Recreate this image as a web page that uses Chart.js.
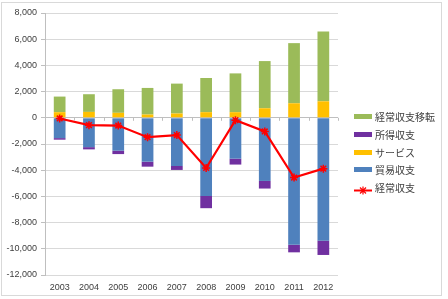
<!DOCTYPE html>
<html><head><meta charset="utf-8">
<script src="https://cdn.jsdelivr.net/npm/chart.js@4/dist/chart.umd.min.js"></script>
<style>
html,body{margin:0;padding:0;background:#fff;}
#wrap{position:relative;width:448px;height:299px;}
#frame{position:absolute;left:1px;top:2px;width:441px;height:294px;border:1px solid #D9D9D9;box-sizing:border-box;pointer-events:none;}
#legend{position:absolute;left:354px;top:108px;font-family:"Noto Sans CJK JP","Noto Sans",sans-serif;font-size:10px;color:#404040;}
.li{height:17.7px;display:flex;align-items:center;white-space:nowrap;}
.sw{width:18px;height:5px;margin-right:3px;position:relative;}
</style></head>
<body><div id="wrap"><canvas id="c" width="448" height="299"></canvas><div id="frame"></div><div id="legend"></div></div>
<script>
const years = ["2003","2004","2005","2006","2007","2008","2009","2010","2011","2012"];
const tradeBalance = [-1550,-2240,-2510,-3350,-3680,-5960,-3120,-4820,-9690,-9380];
const services = [430,450,380,250,330,430,430,730,1110,1260];
const incomeBalance = [-120,-170,-260,-380,-300,-940,-450,-580,-580,-1090];
const currentTransfers = [1190,1350,1800,2030,2280,2610,2960,3600,4590,5330];
const currentAccount = [-50,-560,-590,-1480,-1320,-3830,-180,-1040,-4560,-3880];
const seriesNames = {trade:"貿易収支", services:"サービス", income:"所得収支", transfers:"経常収支移転", current:"経常収支"};
const yTicks = {min:-12000, max:8000, step:2000};

const colors = {trade:"#4F81BD", services:"#FFC000", income:"#7030A0", transfers:"#9BBB59", current:"#FF0000"};

const zeroTicks = {
  id:"zeroTicks",
  afterDatasetsDraw(chart){
    const x = chart.scales.x, y = chart.scales.y, ctx = chart.ctx;
    const y0 = y.getPixelForValue(0);
    const half = (x.getPixelForValue(1) - x.getPixelForValue(0)) / 2;
    ctx.save();
    ctx.strokeStyle = "#BFBFBF"; ctx.lineWidth = 1;
    for (let i = 0; i <= years.length; i++) {
      const px = Math.round(x.getPixelForValue(i) - half) + 0.5;
      ctx.beginPath(); ctx.moveTo(px, y0); ctx.lineTo(px, y0 + 3); ctx.stroke();
    }
    ctx.restore();
  }
};

const barBase = {type:"bar", stack:"s", barPercentage:0.4, categoryPercentage:1, order:1, borderWidth:0};
new Chart(document.getElementById("c"), {
  data:{
    labels: years,
    datasets:[
      Object.assign({label:seriesNames.trade, data:tradeBalance, backgroundColor:colors.trade}, barBase),
      Object.assign({label:seriesNames.services, data:services, backgroundColor:colors.services}, barBase),
      Object.assign({label:seriesNames.income, data:incomeBalance, backgroundColor:colors.income}, barBase),
      Object.assign({label:seriesNames.transfers, data:currentTransfers, backgroundColor:colors.transfers}, barBase),
      {type:"line", label:seriesNames.current, data:currentAccount, borderColor:colors.current, backgroundColor:colors.current,
       borderWidth:2.2, pointStyle:"star", pointRadius:4, pointBorderWidth:1.5, pointBorderColor:colors.current, tension:0, order:0}
    ]
  },
  options:{
    responsive:false, animation:false,
    layout:{padding:{top:13,right:110,bottom:0,left:0}},
    plugins:{legend:{display:false}, tooltip:{enabled:false}},
    scales:{
      x:{stacked:true, offset:true,
         grid:{display:false, drawTicks:false}, border:{display:false},
         ticks:{padding:7, color:"#404040", font:{family:"Liberation Sans, Arial", size:9}},
         afterFit(s){ s.height = 24; }},
      y:{stacked:true, min:yTicks.min, max:yTicks.max,
         ticks:{stepSize:yTicks.step, padding:4, color:"#404040", font:{family:"Liberation Sans, Arial", size:9},
                callback:v=>v.toLocaleString("en-US")},
         grid:{color:ctx=>ctx.tick && ctx.tick.value===0 ? "#BFBFBF" : "#D9D9D9", tickLength:4, tickColor:"#BFBFBF"},
         border:{display:true, color:"#BFBFBF"},
         afterFit(s){ s.width = 45; }}
    }
  },
  plugins:[zeroTicks]
});

const legendItems = [
  {name:seriesNames.transfers, color:colors.transfers},
  {name:seriesNames.income, color:colors.income},
  {name:seriesNames.services, color:colors.services},
  {name:seriesNames.trade, color:colors.trade},
  {name:seriesNames.current, color:colors.current, line:true}
];
const lg = document.getElementById("legend");
legendItems.forEach(it=>{
  const row = document.createElement("div"); row.className="li";
  const sw = document.createElement("div"); sw.className="sw";
  if (it.line) {
    sw.style.height="9px";
    sw.innerHTML = '<svg width="18" height="9"><line x1="0" y1="4.5" x2="18" y2="4.5" stroke="'+it.color+'" stroke-width="2"/><path d="M6 1.5L12 7.5M12 1.5L6 7.5M9 0.5L9 8.5" stroke="'+it.color+'" stroke-width="1.2"/></svg>';
  } else sw.style.background = it.color;
  const tx = document.createElement("span"); tx.textContent = it.name;
  row.appendChild(sw); row.appendChild(tx); lg.appendChild(row);
});
</script></body></html>
